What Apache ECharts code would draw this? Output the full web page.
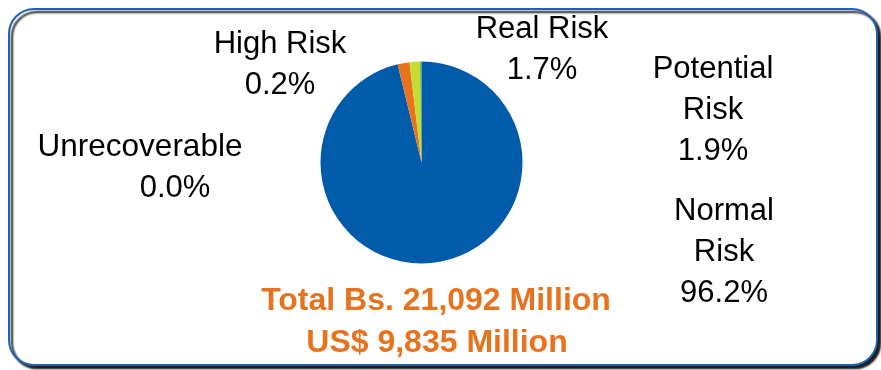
<!DOCTYPE html>
<html>
<head>
<meta charset="utf-8">
<script src="https://cdn.jsdelivr.net/npm/echarts@6/dist/echarts.min.js"></script>
<style>
  html, body { margin: 0; padding: 0; background: #ffffff; }
  #chart { width: 881px; height: 370px; }
</style>
</head>
<body>
<div id="chart"></div>
<script>
// Portfolio risk classification
const categories = ['Normal\nRisk', 'Potential\nRisk', 'Real Risk', 'High Risk', 'Unrecoverable'];
const shares = [96.2, 1.9, 1.7, 0.2, 0.0];
const sliceColors = ['#005bab', '#e8731e', '#c6dc2f', '#3b9b78', '#7f7f7f'];
const totalLines = ['Total Bs. 21,092 Million', 'US$ 9,835 Million'];

// label anchor points (centre of each label block)
const labelSpots = [
  [724, 252],
  [713, 110],
  [542, 50],
  [280, 65],
  [140, 168]
];

const chart = echarts.init(document.getElementById('chart'), null, { renderer: 'canvas' });

const data = categories.map((name, i) => ({
  name: name,
  value: shares[i],
  itemStyle: { color: sliceColors[i] }
}));

const font = '"Liberation Sans", Arial, sans-serif';

chart.setOption({
  animation: false,
  backgroundColor: '#ffffff',
  graphic: [
    {
      type: 'rect',
      shape: { x: 9, y: 9, width: 868, height: 356, r: 25 },
      style: {
        fill: '#ffffff',
        stroke: '#1f63ad',
        lineWidth: 2,
        shadowColor: 'rgba(0,0,0,0.9)',
        shadowOffsetX: 3,
        shadowOffsetY: 3,
        shadowBlur: 2
      },
      z: -10
    },
    {
      type: 'text',
      x: 436,
      y: 301,
      style: {
        text: totalLines[0],
        fill: '#e8731e',
        font: 'bold 32px ' + font,
        textAlign: 'center',
        textVerticalAlign: 'middle'
      }
    },
    {
      type: 'text',
      x: 437,
      y: 343,
      style: {
        text: totalLines[1],
        fill: '#e8731e',
        font: 'bold 32px ' + font,
        textAlign: 'center',
        textVerticalAlign: 'middle'
      }
    }
  ],
  series: [
    {
      type: 'pie',
      center: [421.5, 162.5],
      radius: 101,
      startAngle: 90,
      clockwise: true,
      data: data,
      itemStyle: { borderWidth: 0 },
      emphasis: { disabled: true },
      labelLine: { show: false },
      label: {
        show: true,
        position: 'outside',
        color: '#000000',
        fontFamily: font,
        fontSize: 31,
        lineHeight: 41,
        align: 'center',
        formatter: function (p) {
          const pct = p.value.toFixed(1) + '%';
          if (p.dataIndex === 4) {
            return '{n|' + p.name + '}\n{q|' + pct + '}';
          }
          return p.name + '\n' + pct;
        },
        rich: {
          n: { fontSize: 31.5, lineHeight: 41, fontFamily: font, color: '#000' },
          q: { fontSize: 31, lineHeight: 41, fontFamily: font, color: '#000', padding: [0, 0, 0, 70] }
        }
      },
      labelLayout: function (params) {
        const s = labelSpots[params.dataIndex];
        return { x: s[0], y: s[1], align: 'center', verticalAlign: 'middle', hideOverlap: false };
      }
    }
  ]
});
</script>
</body>
</html>
